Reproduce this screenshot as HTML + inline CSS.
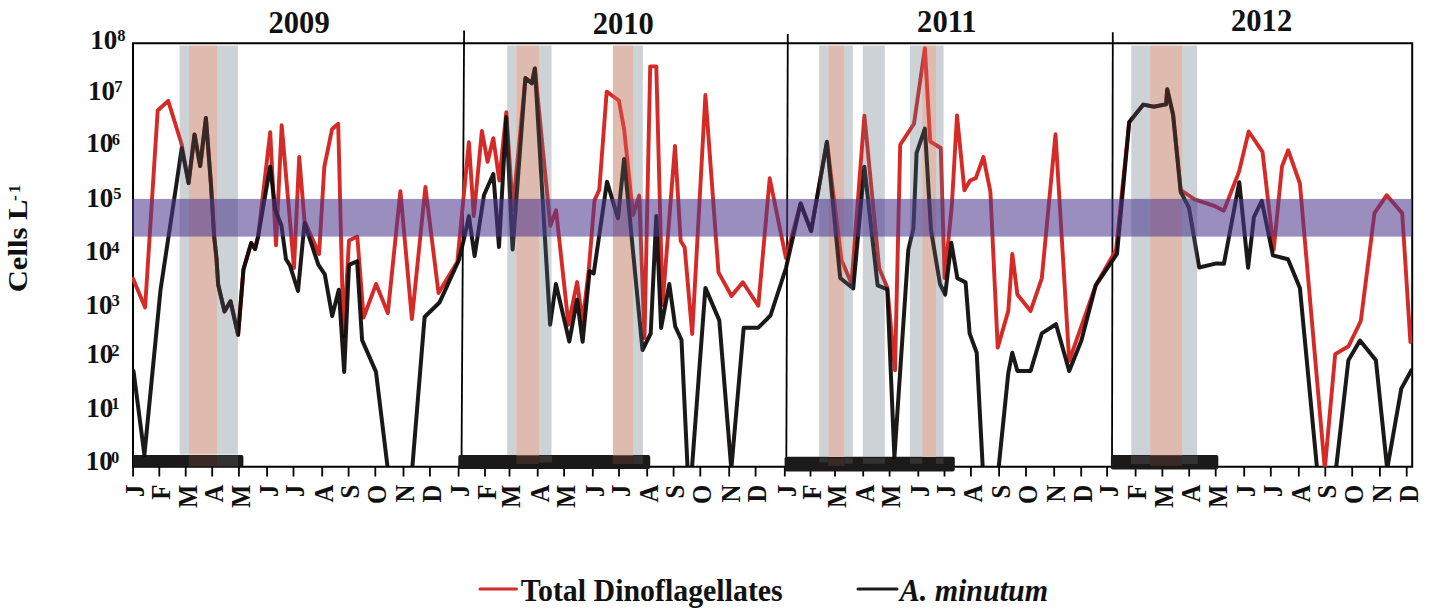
<!DOCTYPE html>
<html><head><meta charset="utf-8"><style>
html,body{margin:0;padding:0;background:#fff;}
svg{display:block;}
text{font-family:"Liberation Serif",serif;font-weight:bold;fill:#111;}
.m{font-size:26px;}
.y{font-size:27px;}
.s{font-size:16.5px;}
.yr{font-size:30px;}
.t{font-size:28px;}
.ts{font-size:17.5px;}
.lg{font-size:30px;}
</style></head><body>
<svg width="1429" height="615" viewBox="0 0 1429 615">
<path d="M133,43.2 H1412.2 V466.8 H133 Z" fill="none" stroke="#000" stroke-width="2"/>
<line x1="464.1" y1="30.5" x2="461.5" y2="466" stroke="#000" stroke-width="1.8"/>
<line x1="787.8" y1="34" x2="786.3" y2="466" stroke="#000" stroke-width="1.8"/>
<line x1="1112.8" y1="32.3" x2="1112" y2="466" stroke="#000" stroke-width="1.8"/>
<line x1="133.1" y1="466" x2="133.1" y2="476.5" stroke="#000" stroke-width="1.8"/>
<line x1="159.3" y1="466" x2="159.3" y2="476.5" stroke="#000" stroke-width="1.8"/>
<line x1="185.7" y1="466" x2="185.7" y2="476.5" stroke="#000" stroke-width="1.8"/>
<line x1="212.2" y1="466" x2="212.2" y2="476.5" stroke="#000" stroke-width="1.8"/>
<line x1="238.9" y1="466" x2="238.9" y2="476.5" stroke="#000" stroke-width="1.8"/>
<line x1="267.1" y1="466" x2="267.1" y2="476.5" stroke="#000" stroke-width="1.8"/>
<line x1="293.5" y1="466" x2="293.5" y2="476.5" stroke="#000" stroke-width="1.8"/>
<line x1="322.2" y1="466" x2="322.2" y2="476.5" stroke="#000" stroke-width="1.8"/>
<line x1="348.6" y1="466" x2="348.6" y2="476.5" stroke="#000" stroke-width="1.8"/>
<line x1="375.3" y1="466" x2="375.3" y2="476.5" stroke="#000" stroke-width="1.8"/>
<line x1="403.5" y1="466" x2="403.5" y2="476.5" stroke="#000" stroke-width="1.8"/>
<line x1="429.9" y1="466" x2="429.9" y2="476.5" stroke="#000" stroke-width="1.8"/>
<line x1="458.6" y1="466" x2="458.6" y2="476.5" stroke="#000" stroke-width="1.8"/>
<line x1="485.0" y1="466" x2="485.0" y2="476.5" stroke="#000" stroke-width="1.8"/>
<line x1="509.5" y1="466" x2="509.5" y2="476.5" stroke="#000" stroke-width="1.8"/>
<line x1="537.7" y1="466" x2="537.7" y2="476.5" stroke="#000" stroke-width="1.8"/>
<line x1="564.1" y1="466" x2="564.1" y2="476.5" stroke="#000" stroke-width="1.8"/>
<line x1="592.8" y1="466" x2="592.8" y2="476.5" stroke="#000" stroke-width="1.8"/>
<line x1="619.0" y1="466" x2="619.0" y2="476.5" stroke="#000" stroke-width="1.8"/>
<line x1="647.2" y1="466" x2="647.2" y2="476.5" stroke="#000" stroke-width="1.8"/>
<line x1="673.6" y1="466" x2="673.6" y2="476.5" stroke="#000" stroke-width="1.8"/>
<line x1="700.3" y1="466" x2="700.3" y2="476.5" stroke="#000" stroke-width="1.8"/>
<line x1="729.2" y1="466" x2="729.2" y2="476.5" stroke="#000" stroke-width="1.8"/>
<line x1="755.6" y1="466" x2="755.6" y2="476.5" stroke="#000" stroke-width="1.8"/>
<line x1="784.8" y1="466" x2="784.8" y2="476.5" stroke="#000" stroke-width="1.8"/>
<line x1="810.5" y1="466" x2="810.5" y2="476.5" stroke="#000" stroke-width="1.8"/>
<line x1="835.0" y1="466" x2="835.0" y2="476.5" stroke="#000" stroke-width="1.8"/>
<line x1="863.2" y1="466" x2="863.2" y2="476.5" stroke="#000" stroke-width="1.8"/>
<line x1="889.6" y1="466" x2="889.6" y2="476.5" stroke="#000" stroke-width="1.8"/>
<line x1="918.3" y1="466" x2="918.3" y2="476.5" stroke="#000" stroke-width="1.8"/>
<line x1="944.5" y1="466" x2="944.5" y2="476.5" stroke="#000" stroke-width="1.8"/>
<line x1="970.9" y1="466" x2="970.9" y2="476.5" stroke="#000" stroke-width="1.8"/>
<line x1="999.1" y1="466" x2="999.1" y2="476.5" stroke="#000" stroke-width="1.8"/>
<line x1="1026.0" y1="466" x2="1026.0" y2="476.5" stroke="#000" stroke-width="1.8"/>
<line x1="1054.2" y1="466" x2="1054.2" y2="476.5" stroke="#000" stroke-width="1.8"/>
<line x1="1081.2" y1="466" x2="1081.2" y2="476.5" stroke="#000" stroke-width="1.8"/>
<line x1="1107.1" y1="466" x2="1107.1" y2="476.5" stroke="#000" stroke-width="1.8"/>
<line x1="1135.6" y1="466" x2="1135.6" y2="476.5" stroke="#000" stroke-width="1.8"/>
<line x1="1162.4" y1="466" x2="1162.4" y2="476.5" stroke="#000" stroke-width="1.8"/>
<line x1="1189.2" y1="466" x2="1189.2" y2="476.5" stroke="#000" stroke-width="1.8"/>
<line x1="1215.7" y1="466" x2="1215.7" y2="476.5" stroke="#000" stroke-width="1.8"/>
<line x1="1244.2" y1="466" x2="1244.2" y2="476.5" stroke="#000" stroke-width="1.8"/>
<line x1="1270.8" y1="466" x2="1270.8" y2="476.5" stroke="#000" stroke-width="1.8"/>
<line x1="1298.8" y1="466" x2="1298.8" y2="476.5" stroke="#000" stroke-width="1.8"/>
<line x1="1325.3" y1="466" x2="1325.3" y2="476.5" stroke="#000" stroke-width="1.8"/>
<line x1="1352.2" y1="466" x2="1352.2" y2="476.5" stroke="#000" stroke-width="1.8"/>
<line x1="1379.9" y1="466" x2="1379.9" y2="476.5" stroke="#000" stroke-width="1.8"/>
<line x1="1406.7" y1="466" x2="1406.7" y2="476.5" stroke="#000" stroke-width="1.8"/>
<rect x="133" y="455.1" width="110.4" height="11.6" rx="1.8" fill="#1c1a18"/>
<rect x="458.3" y="455.1" width="191.9" height="14.0" rx="1.8" fill="#1c1a18"/>
<rect x="784.6" y="456.8" width="170.2" height="14.6" rx="1.8" fill="#1c1a18"/>
<rect x="1110.9" y="455" width="107.4" height="14.6" rx="1.8" fill="#1c1a18"/>
<rect x="188.8" y="455.4" width="28.2" height="10.9" fill="#3a2925"/>
<rect x="217" y="455.4" width="21.0" height="10.9" fill="#323232"/>
<rect x="516.3" y="455.6" width="22.4" height="8.4" fill="#3a2925"/>
<rect x="538.7" y="455.6" width="13.4" height="6.8" fill="#323232"/>
<rect x="612.6" y="455.6" width="20.7" height="8.4" fill="#3a2925"/>
<rect x="633.3" y="455.6" width="9.5" height="8.4" fill="#323232"/>
<rect x="819.1" y="458.2" width="9.1" height="4.1" fill="#323232"/>
<rect x="828.2" y="458.2" width="16.4" height="7.7" fill="#3a2925"/>
<rect x="844.6" y="458.2" width="8.2" height="5.5" fill="#323232"/>
<rect x="862.8" y="458.2" width="22.3" height="5.5" fill="#323232"/>
<rect x="909.9" y="458.2" width="12.4" height="5.5" fill="#323232"/>
<rect x="936" y="458.2" width="7.6" height="5.5" fill="#323232"/>
<rect x="1130.9" y="455.6" width="19.1" height="8.5" fill="#323232"/>
<rect x="1150" y="455.6" width="31.9" height="10.3" fill="#3a2925"/>
<rect x="1181.9" y="455.6" width="15.9" height="8.5" fill="#323232"/>
<rect x="189" y="45.5" width="28.2" height="409.0" fill="#dfbaae"/>
<rect x="516.3" y="45.5" width="22.7" height="409.8" fill="#dfbaae"/>
<rect x="612.9" y="45.5" width="20.3" height="409.8" fill="#dfbaae"/>
<rect x="828.6" y="45.5" width="15.5" height="411.1" fill="#dfbaae"/>
<rect x="922.3" y="45.5" width="13.7" height="411.1" fill="#dfbaae"/>
<rect x="1150.2" y="45.5" width="32.0" height="409.7" fill="#dfbaae"/>
<defs><clipPath id="pc"><rect x="132" y="43" width="1281" height="423.7"/></clipPath></defs>
<g clip-path="url(#pc)">
<polyline points="133.1,278.8 145.1,307.5 157.7,110.5 168.2,100.9 181.7,144.5 188.6,183.1 194.5,134.4 200.2,166.1 205.9,117.9 211,185 214.1,236 216.4,257.6 218.2,284.8 224.5,311.5 230.5,301.3 238.1,334.8 243.5,269.2 251.2,243 255.1,249.1 258.2,236 270.2,132.1 276,245.3 281.7,125.1 294,268 299.2,157 304.5,220.7 319.1,254 324.3,167 332,129.3 338.2,123.8 343.5,336.5 349,240.5 357.3,236.5 363.6,317.5 376.1,283.9 387.8,313.1 400.4,191.1 411.9,319 425.4,187 438.5,293 457.3,261.9 468.9,142.3 473.8,216.1 481.9,130.9 487.6,161.8 493.3,138.2 499.3,180.5 506.3,112.2 512.8,210 525.4,78.1 531.8,83.3 534.9,68.5 550.3,225.8 556.1,210.3 568.5,324.7 577.1,282.1 582.6,321.4 588.8,269.4 594.5,200.4 599.3,189.8 606.7,91.6 618.9,100.5 624.2,129.8 633,215 639.2,195.5 644.5,338 650.2,66.4 656.3,66.4 662.5,305 675,146 680.7,241 684.7,247.6 692.2,334 705.4,95 718.5,272.4 731.5,296 742.8,282.2 758.3,305.8 769.7,178.3 785.9,257.9 800.6,203.5 811.1,231.1 826.9,141.8 841.5,260 851.5,283.7 864.4,115.6 879.2,268.2 887.3,287.7 895,370.4 900.2,144.8 914,123.7 924.9,48.3 930.2,141.5 940.8,148 944.6,278 951.8,206 957,115.5 964.4,190.3 970.1,180.5 975.8,178.1 983.4,157 990.4,191.9 997.7,347.6 1008.3,310.9 1012.3,253.9 1017.4,294.6 1030.6,310.9 1041.8,278.3 1055.5,134.1 1069.2,360.8 1095.7,285.4 1116,249.9 1129.2,122.2 1143.3,104.6 1153.9,106.7 1166.1,104.3 1167.2,89.3 1173.1,114.8 1180.7,190 1194.6,199.3 1214.1,205.8 1223.8,210.7 1238.9,172.1 1248.7,131.5 1262.5,151.8 1273.7,249.7 1282,166.4 1288.2,150.2 1299.9,183.5 1324.8,469 1335.2,354.1 1348.6,346.2 1360.8,321 1374.5,213.1 1386.7,195.2 1402.2,213.1 1410.4,342.1" fill="none" stroke="#d62a27" stroke-width="3.9" stroke-linejoin="round" stroke-linecap="round"/>
<polyline points="133.5,370.9 144.4,455 160.5,290 176.3,185 181.7,148.3 188.6,183.1 194.5,134.4 200.2,166.1 205.9,117.9 211,185 214.1,236 216.4,257.6 218.2,284.8 224.5,311.5 230.5,301.3 238.1,334.8 243.5,269.2 251.2,243 255.1,249.1 258.2,236 270.2,166.4 275.2,209.7 281.4,225.2 286,259.2 289.9,265.4 298,291 304.5,223.1 318.3,264.6 324.8,274.3 332.2,316.1 338.8,289.7 344.2,371.9 349,264.9 357.1,261.2 362.1,340.1 376,371.9 387.8,469 412.2,469 424.6,317 439.7,302.2 458.7,260.5 463.2,242.2 468.9,216.1 474.6,256 484,195 493.3,174 499,247 506.3,117 512.6,249.5 525.4,78.1 531.8,83.3 534.9,68.5 550.1,324.7 555.9,284 569.3,341.5 577.1,299.5 582.6,341.7 589.6,271 593.7,273.5 607,181.7 618,218.3 624.1,158.9 642.5,350 650.7,333.5 656.3,215.9 661.1,327.9 669.3,284 675.2,326.3 681.5,340 687.6,469 691.9,469 705.4,287.9 719.3,320.4 731.3,469 743.7,327.7 758.3,327.7 770.5,315.5 786,268 800.6,203.5 811.1,231.1 826.9,141.8 840.2,278 853.2,288.5 864.4,166.7 877.6,285.3 887.3,289.3 894.4,457.3 908.3,250 913.4,228.4 916.6,152.9 924.9,128.6 931,230 940,284 945.2,294.6 951.3,242.8 957.4,278.3 965.6,282.4 969.6,333.4 976.7,352.7 982.8,469 998.5,469 1008.3,373 1012.3,352.7 1017.4,371 1030.6,371 1041.8,333.4 1056,324.2 1069.2,371 1081.4,340.5 1095.7,285.4 1117,253.9 1129.2,122.2 1143.3,104.6 1153.9,106.7 1166.1,104.3 1167.2,89.3 1173.1,114.8 1180.7,192 1188.9,207.4 1199.2,267.5 1216.6,263.4 1223.9,263.8 1239.3,182.2 1248.1,267.7 1253.9,217.2 1261.8,200.9 1272.9,255.4 1288,259.2 1299.9,288 1317.1,469 1336,469 1348.4,360.2 1360,340.5 1375.9,360.2 1387.2,469 1401.3,388.6 1411.4,370.3" fill="none" stroke="#0c0b0a" stroke-opacity="0.94" stroke-width="4" stroke-linejoin="round" stroke-linecap="round"/>
</g>
<rect x="179.6" y="45.5" width="9.4" height="409.0" fill="rgb(88,105,122)" fill-opacity="0.3"/>
<rect x="217.2" y="45.5" width="20.7" height="409.0" fill="rgb(88,105,122)" fill-opacity="0.3"/>
<rect x="507.3" y="45.5" width="9.0" height="409.8" fill="rgb(88,105,122)" fill-opacity="0.3"/>
<rect x="539" y="45.5" width="12.5" height="409.8" fill="rgb(88,105,122)" fill-opacity="0.3"/>
<rect x="633.2" y="45.5" width="9.6" height="409.8" fill="rgb(88,105,122)" fill-opacity="0.3"/>
<rect x="819.2" y="45.5" width="9.4" height="411.1" fill="rgb(88,105,122)" fill-opacity="0.3"/>
<rect x="844.1" y="45.5" width="8.7" height="411.1" fill="rgb(88,105,122)" fill-opacity="0.3"/>
<rect x="862.8" y="45.5" width="22.0" height="411.1" fill="rgb(88,105,122)" fill-opacity="0.3"/>
<rect x="909.9" y="45.5" width="12.4" height="411.1" fill="rgb(88,105,122)" fill-opacity="0.3"/>
<rect x="936" y="45.5" width="7.6" height="411.1" fill="rgb(88,105,122)" fill-opacity="0.3"/>
<rect x="1131.3" y="45.5" width="18.9" height="409.7" fill="rgb(88,105,122)" fill-opacity="0.3"/>
<rect x="1182.2" y="45.5" width="15.0" height="409.7" fill="rgb(88,105,122)" fill-opacity="0.3"/>
<rect x="189" y="45.5" width="28.2" height="409.0" fill="#dfbaae" fill-opacity="0.16"/>
<rect x="516.3" y="45.5" width="22.7" height="409.8" fill="#dfbaae" fill-opacity="0.16"/>
<rect x="612.9" y="45.5" width="20.3" height="409.8" fill="#dfbaae" fill-opacity="0.16"/>
<rect x="828.6" y="45.5" width="15.5" height="411.1" fill="#dfbaae" fill-opacity="0.16"/>
<rect x="922.3" y="45.5" width="13.7" height="411.1" fill="#dfbaae" fill-opacity="0.16"/>
<rect x="1150.2" y="45.5" width="32.0" height="409.7" fill="#dfbaae" fill-opacity="0.16"/>
<rect x="132" y="198.9" width="1280" height="37.7" fill="rgb(78,57,140)" fill-opacity="0.57"/>
<text transform="translate(143.9,484.7) rotate(-90) scale(0.95,1.06)" text-anchor="end" class="m">J</text>
<text transform="translate(170.1,484.7) rotate(-90) scale(0.95,1.06)" text-anchor="end" class="m">F</text>
<text transform="translate(196.5,484.7) rotate(-90) scale(0.95,1.06)" text-anchor="end" class="m">M</text>
<text transform="translate(223.0,484.7) rotate(-90) scale(0.95,1.06)" text-anchor="end" class="m">A</text>
<text transform="translate(249.7,484.7) rotate(-90) scale(0.95,1.06)" text-anchor="end" class="m">M</text>
<text transform="translate(277.9,484.7) rotate(-90) scale(0.95,1.06)" text-anchor="end" class="m">J</text>
<text transform="translate(304.3,484.7) rotate(-90) scale(0.95,1.06)" text-anchor="end" class="m">J</text>
<text transform="translate(333.0,484.7) rotate(-90) scale(0.95,1.06)" text-anchor="end" class="m">A</text>
<text transform="translate(359.4,484.7) rotate(-90) scale(0.95,1.06)" text-anchor="end" class="m">S</text>
<text transform="translate(386.1,484.7) rotate(-90) scale(0.95,1.06)" text-anchor="end" class="m">O</text>
<text transform="translate(414.3,484.7) rotate(-90) scale(0.95,1.06)" text-anchor="end" class="m">N</text>
<text transform="translate(440.7,484.7) rotate(-90) scale(0.95,1.06)" text-anchor="end" class="m">D</text>
<text transform="translate(469.4,484.7) rotate(-90) scale(0.95,1.06)" text-anchor="end" class="m">J</text>
<text transform="translate(495.8,484.7) rotate(-90) scale(0.95,1.06)" text-anchor="end" class="m">F</text>
<text transform="translate(520.3,484.7) rotate(-90) scale(0.95,1.06)" text-anchor="end" class="m">M</text>
<text transform="translate(548.5,484.7) rotate(-90) scale(0.95,1.06)" text-anchor="end" class="m">A</text>
<text transform="translate(574.9,484.7) rotate(-90) scale(0.95,1.06)" text-anchor="end" class="m">M</text>
<text transform="translate(603.6,484.7) rotate(-90) scale(0.95,1.06)" text-anchor="end" class="m">J</text>
<text transform="translate(629.8,484.7) rotate(-90) scale(0.95,1.06)" text-anchor="end" class="m">J</text>
<text transform="translate(658.0,484.7) rotate(-90) scale(0.95,1.06)" text-anchor="end" class="m">A</text>
<text transform="translate(684.4,484.7) rotate(-90) scale(0.95,1.06)" text-anchor="end" class="m">S</text>
<text transform="translate(711.1,484.7) rotate(-90) scale(0.95,1.06)" text-anchor="end" class="m">O</text>
<text transform="translate(740.0,484.7) rotate(-90) scale(0.95,1.06)" text-anchor="end" class="m">N</text>
<text transform="translate(766.4,484.7) rotate(-90) scale(0.95,1.06)" text-anchor="end" class="m">D</text>
<text transform="translate(795.6,484.7) rotate(-90) scale(0.95,1.06)" text-anchor="end" class="m">J</text>
<text transform="translate(821.3,484.7) rotate(-90) scale(0.95,1.06)" text-anchor="end" class="m">F</text>
<text transform="translate(845.8,484.7) rotate(-90) scale(0.95,1.06)" text-anchor="end" class="m">M</text>
<text transform="translate(874.0,484.7) rotate(-90) scale(0.95,1.06)" text-anchor="end" class="m">A</text>
<text transform="translate(900.4,484.7) rotate(-90) scale(0.95,1.06)" text-anchor="end" class="m">M</text>
<text transform="translate(929.1,484.7) rotate(-90) scale(0.95,1.06)" text-anchor="end" class="m">J</text>
<text transform="translate(955.3,484.7) rotate(-90) scale(0.95,1.06)" text-anchor="end" class="m">J</text>
<text transform="translate(981.7,484.7) rotate(-90) scale(0.95,1.06)" text-anchor="end" class="m">A</text>
<text transform="translate(1009.9,484.7) rotate(-90) scale(0.95,1.06)" text-anchor="end" class="m">S</text>
<text transform="translate(1036.8,484.7) rotate(-90) scale(0.95,1.06)" text-anchor="end" class="m">O</text>
<text transform="translate(1065.0,484.7) rotate(-90) scale(0.95,1.06)" text-anchor="end" class="m">N</text>
<text transform="translate(1092.0,484.7) rotate(-90) scale(0.95,1.06)" text-anchor="end" class="m">D</text>
<text transform="translate(1117.9,484.7) rotate(-90) scale(0.95,1.06)" text-anchor="end" class="m">J</text>
<text transform="translate(1146.4,484.7) rotate(-90) scale(0.95,1.06)" text-anchor="end" class="m">F</text>
<text transform="translate(1173.2,484.7) rotate(-90) scale(0.95,1.06)" text-anchor="end" class="m">M</text>
<text transform="translate(1200.0,484.7) rotate(-90) scale(0.95,1.06)" text-anchor="end" class="m">A</text>
<text transform="translate(1226.5,484.7) rotate(-90) scale(0.95,1.06)" text-anchor="end" class="m">M</text>
<text transform="translate(1255.0,484.7) rotate(-90) scale(0.95,1.06)" text-anchor="end" class="m">J</text>
<text transform="translate(1281.6,484.7) rotate(-90) scale(0.95,1.06)" text-anchor="end" class="m">J</text>
<text transform="translate(1309.6,484.7) rotate(-90) scale(0.95,1.06)" text-anchor="end" class="m">A</text>
<text transform="translate(1336.1,484.7) rotate(-90) scale(0.95,1.06)" text-anchor="end" class="m">S</text>
<text transform="translate(1363.0,484.7) rotate(-90) scale(0.95,1.06)" text-anchor="end" class="m">O</text>
<text transform="translate(1390.7,484.7) rotate(-90) scale(0.95,1.06)" text-anchor="end" class="m">N</text>
<text transform="translate(1417.5,484.7) rotate(-90) scale(0.95,1.06)" text-anchor="end" class="m">D</text>
<text x="90.2" y="48.7" class="y">10</text>
<text x="117.2" y="41.3" class="s">8</text>
<text x="88.0" y="99.6" class="y">10</text>
<text x="114.3" y="92.2" class="s">7</text>
<text x="86.2" y="152.3" class="y">10</text>
<text x="111.7" y="144.9" class="s">6</text>
<text x="86.2" y="206.7" class="y">10</text>
<text x="113.3" y="199.3" class="s">5</text>
<text x="85.2" y="260.2" class="y">10</text>
<text x="111.2" y="252.8" class="s">4</text>
<text x="85.4" y="313.5" class="y">10</text>
<text x="111.4" y="306.1" class="s">3</text>
<text x="86.3" y="363.2" class="y">10</text>
<text x="111.3" y="355.8" class="s">2</text>
<text x="86.3" y="416.6" class="y">10</text>
<text x="111.3" y="409.2" class="s">1</text>
<text x="85.8" y="470.2" class="y">10</text>
<text x="111.0" y="462.8" class="s">0</text>
<text transform="translate(268.5,33.2) scale(1.02,1.07)" class="yr">2009</text>
<text transform="translate(592.7,33.6) scale(1.02,1.07)" class="yr">2010</text>
<text transform="translate(917.1,32.3) scale(1.02,1.07)" class="yr">2011</text>
<text transform="translate(1231,31) scale(1.02,1.07)" class="yr">2012</text>
<text transform="translate(27.3,292.3) rotate(-90) scale(1.095,1)" class="t">Cells L</text>
<text transform="translate(19.5,200.9) rotate(-90)" class="ts" letter-spacing="1.7">-1</text>
<line x1="480" y1="589" x2="516.5" y2="589" stroke="#d42b27" stroke-width="3" stroke-linecap="round"/>
<text transform="translate(520.8,601) scale(0.996,1.07)" class="lg">Total Dinoflagellates</text>
<line x1="858" y1="589" x2="897" y2="589" stroke="#1a1a1a" stroke-width="3" stroke-linecap="round"/>
<text transform="translate(899.7,600.6) scale(1,1.06)" class="lg" font-style="italic">A. minutum</text>
</svg>
</body></html>
